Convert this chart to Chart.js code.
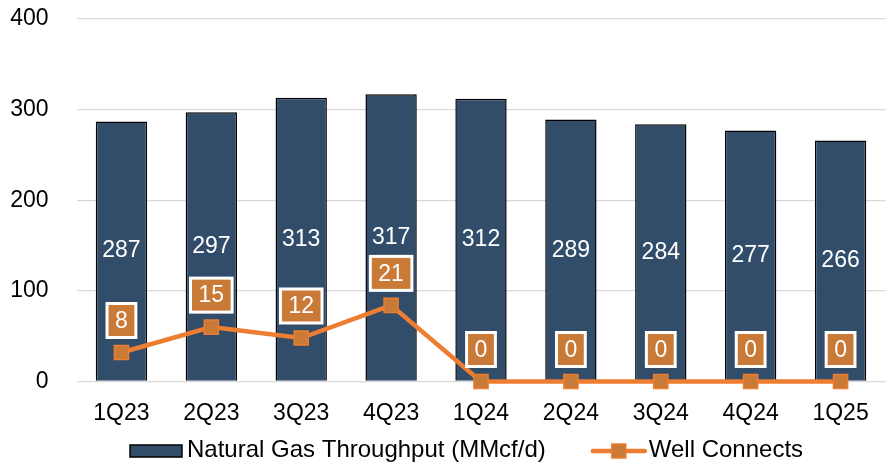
<!DOCTYPE html>
<html>
<head>
<meta charset="utf-8">
<script src="https://cdn.jsdelivr.net/npm/chart.js@4/dist/chart.umd.min.js"></script>
<style>
  html, body { margin: 0; padding: 0; background: #fff; overflow: hidden; }
  #wrap { width: 897px; height: 463px; }
</style>
</head>
<body>
<div id="wrap"><canvas id="chart" width="897" height="463"></canvas></div>
<script>
// data
var quarters = ["1Q23", "2Q23", "3Q23", "4Q23", "1Q24", "2Q24", "3Q24", "4Q24", "1Q25"];
var throughput = [287, 297, 313, 317, 312, 289, 284, 277, 266];
var wellConnects = [8, 15, 12, 21, 0, 0, 0, 0, 0];
var seriesNames = ["Natural Gas Throughput (MMcf/d)", "Well Connects"];
var yTicks = [0, 100, 200, 300, 400];

var BAR_COLOR = "#314D6A";
var LINE_COLOR = "#ED7D31";
var LABEL_ORANGE = "#C97A36";
var FONT = "'Liberation Sans', Arial, sans-serif";

Chart.defaults.font.family = FONT;
Chart.defaults.font.size = 23;
Chart.defaults.color = "#000";

// value labels: white text in bars, orange boxes above line points
var valueLabels = {
	id: "valueLabels",
	afterDatasetsDraw: function(chart) {
		var ctx = chart.ctx;
		ctx.save();
		ctx.font = "23px " + FONT;
		ctx.textAlign = "center";
		ctx.textBaseline = "middle";

		chart.getDatasetMeta(0).data.forEach(function(bar, i) {
			ctx.fillStyle = "#fff";
			ctx.fillText(String(throughput[i]), bar.x, (bar.y + bar.base) / 2);
		});

		chart.getDatasetMeta(1).data.forEach(function(pt, i) {
			var txt = String(wellConnects[i]);
			var w = ctx.measureText(txt).width + 19;
			var h = 37;
			var cy = pt.y - 32;
			ctx.fillStyle = "#fff";
			ctx.fillRect(pt.x - w / 2, cy - h / 2, w, h);
			ctx.fillStyle = LABEL_ORANGE;
			ctx.fillRect(pt.x - w / 2 + 3, cy - h / 2 + 3, w - 6, h - 6);
			ctx.fillStyle = "#fff";
			ctx.fillText(txt, pt.x, cy + 1);
		});
		ctx.restore();
	}
};

// legend at the bottom: bar swatch, then line with square marker
var bottomLegend = {
	id: "bottomLegend",
	afterDraw: function(chart) {
		var ctx = chart.ctx;
		var y = 451;
		var x = 130;
		ctx.save();
		ctx.font = "24px " + FONT;
		ctx.textBaseline = "middle";
		ctx.textAlign = "left";

		ctx.fillStyle = BAR_COLOR;
		ctx.fillRect(x, y - 6, 52, 12);
		ctx.strokeStyle = "#000";
		ctx.lineWidth = 1.5;
		ctx.strokeRect(x, y - 6, 52, 12);
		x += 57;
		ctx.fillStyle = "#000";
		ctx.fillText(seriesNames[0], x, y - 1);
		x += ctx.measureText(seriesNames[0]).width + 45;

		ctx.strokeStyle = LINE_COLOR;
		ctx.lineWidth = 4.5;
		ctx.lineCap = "round";
		ctx.beginPath();
		ctx.moveTo(x + 2, y);
		ctx.lineTo(x + 54, y);
		ctx.stroke();
		ctx.fillStyle = LABEL_ORANGE;
		ctx.fillRect(x + 21, y - 7, 14, 14);
		ctx.strokeStyle = LINE_COLOR;
		ctx.lineWidth = 1.5;
		ctx.strokeRect(x + 21, y - 7, 14, 14);
		x += 58;
		ctx.fillStyle = "#000";
		ctx.fillText(seriesNames[1], x, y - 1);
		ctx.restore();
	}
};

var ctx = document.getElementById("chart").getContext("2d");

new Chart(ctx, {
	type: "bar",
	data: {
		labels: quarters,
		datasets: [{
			type: "bar",
			label: seriesNames[0],
			data: throughput,
			backgroundColor: BAR_COLOR,
			borderColor: "#000",
			borderWidth: 1.5,
			barPercentage: 0.571,
			categoryPercentage: 1,
			order: 2
		}, {
			type: "line",
			label: seriesNames[1],
			data: wellConnects,
			yAxisID: "y2",
			borderColor: LINE_COLOR,
			borderWidth: 4.5,
			tension: 0,
			pointStyle: "rect",
			pointRadius: 10,
			pointBackgroundColor: LABEL_ORANGE,
			pointBorderColor: LINE_COLOR,
			pointBorderWidth: 1.5,
			clip: false,
			order: 1
		}]
	},
	options: {
		responsive: false,
		animation: false,
		layout: { padding: { top: 19, left: 0, right: 0, bottom: 0 } },
		plugins: {
			legend: { display: false },
			tooltip: { enabled: false }
		},
		scales: {
			x: {
				offset: true,
				grid: { display: false },
				border: { display: false },
				ticks: { padding: 10, color: "#000" },
				afterFit: function(scale) { scale.height = 81.5; }
			},
			y: {
				min: 0,
				max: 400,
				afterBuildTicks: function(scale) {
					scale.ticks = yTicks.map(function(v) { return { value: v }; });
				},
				// invisible tick marks give the gap between labels and plot
				grid: { color: "#D9D9D9", lineWidth: 1.3, drawTicks: true, tickLength: 28, tickColor: "rgba(0,0,0,0)" },
				border: { display: false },
				ticks: { padding: 0, color: "#000" },
				afterFit: function(scale) { scale.width = 76.5; }
			},
			y2: {
				min: 0,
				max: 100,
				display: false
			}
		}
	},
	plugins: [valueLabels, bottomLegend]
});
</script>
</body>
</html>
